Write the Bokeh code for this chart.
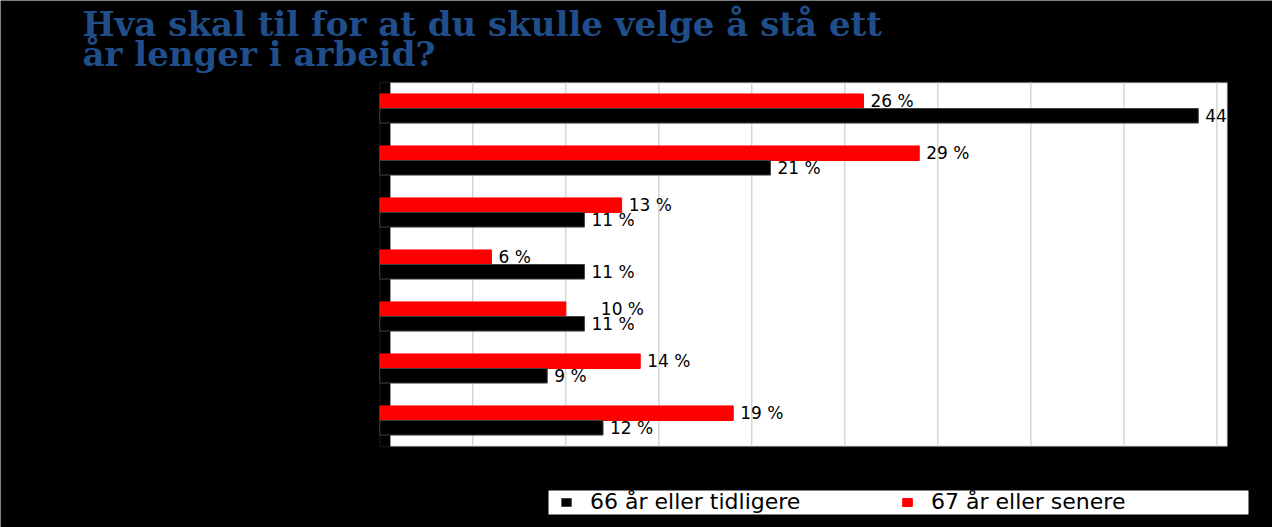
from bokeh.plotting import figure
from bokeh.models import (Range1d, BoxAnnotation, Label, ColumnDataSource,
                          Legend, LegendItem)
from bokeh.transform import dodge
from bokeh.embed import file_html
from bokeh.resources import INLINE
from bokeh.core.properties import value

# ---------------- data ----------------
title_lines = ["Hva skal til for at du skulle velge å stå ett",
               "år lenger i arbeid?"]
series_names = ["66 år eller tidligere", "67 år eller senere"]
# values listed top to bottom (percent)
early = [44, 21, 11, 11, 11, 9, 12]    # 66 år eller tidligere (black)
late = [26, 29, 13, 6, 10, 14, 19]     # 67 år eller senere (red)
grid_ticks = [5, 10, 15, 20, 25, 30, 35, 40, 45]
x_max = 45.57

# ---------------- layout / styling ----------------
W, H = 1272, 527
PLOT_LEFT, PLOT_RIGHT = 379.3, 1227.0      # canvas px of value 0 and x_max
PLOT_TOP, PLOT_BOTTOM = 82.0, 446.0
RED = "#ff0000"
BLACK = "#000000"
TITLE_BLUE = "#1f4e8a"
LABEL_FONT = "DejaVu Sans"
TITLE_FS = 34
title_baselines = [37, 67]                 # canvas px from top
late_label_nudge = [0, 0, 0, 0, 28, 0, 0]   # the "10 %" label sits further right

n = len(early)
xs = (PLOT_RIGHT - PLOT_LEFT) / x_max
band = (PLOT_BOTTOM - PLOT_TOP) / n
x_range = Range1d(-PLOT_LEFT / xs, x_max + (W - PLOT_RIGHT) / xs)
y_range = Range1d(-0.5 - (H - PLOT_BOTTOM) / band, n - 0.5 + PLOT_TOP / band)

ypos = list(range(n - 1, -1, -1))
src = ColumnDataSource(dict(
    y=ypos,
    early=early,
    late=late,
    early_lbl=[f"{v} %" for v in early],
    late_lbl=[f"{v} %" for v in late],
    late_off=[7 + d for d in late_label_nudge],
))

p = figure(width=W, height=H, x_range=x_range, y_range=y_range,
           x_axis_location=None, y_axis_location=None,
           toolbar_location=None, output_backend="svg",
           min_border=0, background_fill_color="black",
           border_fill_color="black", outline_line_color=None)
p.xgrid.visible = False
p.ygrid.visible = False

# white plotting area (starts slightly right of the bar origin)
p.add_layout(BoxAnnotation(left=0.57, right=x_max, bottom=-0.5, top=n - 0.5,
                           fill_color="white", fill_alpha=1.0, line_alpha=0,
                           level="image"))
p.add_layout(BoxAnnotation(left=0, right=x_max, bottom=-0.5, top=n - 0.5,
                           fill_alpha=0, line_color="#404040", line_width=1.5,
                           level="underlay"))

# vertical grid lines
p.segment(x0=grid_ticks, x1=grid_ticks, y0=-0.5, y1=n - 0.5,
          line_color="#c0c0c0", line_width=1)

OFF = 0.14
BH = 0.28
r_late = p.hbar(y=dodge("y", OFF, range=p.y_range), left=0, right="late",
                height=BH, fill_color=RED, line_color=RED, source=src)
r_early = p.hbar(y=dodge("y", -OFF, range=p.y_range), left=0, right="early",
                 height=BH, fill_color=BLACK, line_color="#404040", source=src)

p.text(x="late", y=dodge("y", OFF, range=p.y_range), text="late_lbl",
       x_offset="late_off", text_baseline="middle", text_align="left",
       text_font=value(LABEL_FONT), text_font_size="17px", text_color="black",
       source=src)
p.text(x="early", y=dodge("y", -OFF, range=p.y_range), text="early_lbl",
       x_offset=7, text_baseline="middle", text_align="left",
       text_font=value(LABEL_FONT), text_font_size="17px", text_color="black",
       source=src)

# the plot area clips labels at its right edge
p.add_layout(BoxAnnotation(left=PLOT_RIGHT + 1, left_units="screen",
                           bottom=-0.5, top=n - 0.5,
                           fill_color="black", fill_alpha=1.0, line_alpha=0,
                           level="overlay"))

# title
for line, base in zip(title_lines, title_baselines):
    p.add_layout(Label(x=82, y=H - base + 0.4 * TITLE_FS,
                       x_units="screen", y_units="screen",
                       text=line, text_font="DejaVu Serif", text_font_style="bold",
                       text_font_size=f"{TITLE_FS}px", text_color=TITLE_BLUE,
                       text_baseline="alphabetic"))

# legend box
p.add_layout(BoxAnnotation(left=548, right=1248, bottom=H - 514, top=H - 490,
                           left_units="screen", right_units="screen",
                           bottom_units="screen", top_units="screen",
                           fill_color="white", fill_alpha=1.0, line_alpha=0,
                           level="overlay"))
legend = Legend(items=[LegendItem(label=series_names[0], renderers=[r_early]),
                       LegendItem(label=series_names[1], renderers=[r_late])],
                orientation="horizontal", location=(560, H - 514),
                background_fill_alpha=0, border_line_alpha=0,
                label_text_font=LABEL_FONT, label_text_font_size="22px",
                label_text_color="black", label_height=24, label_width=311,
                glyph_width=12, glyph_height=10, label_standoff=18,
                spacing=0, padding=0, margin=0)
p.add_layout(legend)

open("out.html", "w").write(file_html(p, INLINE))
